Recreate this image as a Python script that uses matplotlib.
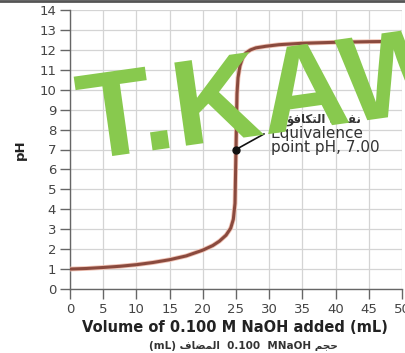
import matplotlib
matplotlib.use("Agg")
import matplotlib.pyplot as plt
import matplotlib.patheffects as pe
from matplotlib.textpath import TextPath
from matplotlib.patches import PathPatch
from matplotlib.font_manager import FontProperties
from matplotlib.transforms import Affine2D, IdentityTransform

# titration curve: 0.100 M NaOH into strong acid
volume_ml = [0, 2.5, 5, 7.5, 10, 12.5, 15, 17.5, 20, 21.5, 22.5, 23.5, 24.2, 24.6, 24.85,
             25.0, 25.15, 25.3, 25.6, 26.0, 26.5, 27.2, 28.0, 29.5, 31.5, 35, 40, 45, 50]
ph_values = [1.00, 1.03, 1.08, 1.14, 1.22, 1.33, 1.47, 1.66, 1.95, 2.18, 2.40, 2.70, 3.05, 3.50, 4.30,
             7.00, 9.80, 10.60, 11.20, 11.60, 11.85, 12.00, 12.10, 12.18, 12.26, 12.33, 12.38, 12.41, 12.43]
equiv_point = (25.0, 7.0)
x_ticks = list(range(0, 55, 5))
y_ticks = list(range(0, 15))

label_en = "Volume of 0.100 M NaOH added (mL)"
# Arabic in visual order with presentation forms (matplotlib does no shaping)
label_ar = "(mL) \uFED1\uFE8E\uFEC0\uFEE4\uFEDF\uFE8D  0.100  MNaOH \uFEE2\uFEA0\uFEA3"
equiv_ar = "\uFE86\uFED3\uFE8E\uFEDC\uFE98\uFEDF\uFE8D \uFE94\uFEC4\uFED4\uFEE7"
equiv_en = "Equivalence\npoint pH, 7.00"
watermark = "T.KAW"

W, H = 406, 353
fig = plt.figure(figsize=(W / 100, H / 100), dpi=100)
ax = fig.add_axes([70 / W, 1 - 289 / H, (402 - 70) / W, (289 - 10) / H])

ax.plot(volume_ml, ph_values, color="#8a4a3e", lw=2.2, solid_capstyle="round",
        path_effects=[pe.Stroke(linewidth=3.4, foreground="#f0c2b4"), pe.Normal()], zorder=3)
ax.plot(*equiv_point, "o", color="#111111", ms=5, zorder=4)
ax.annotate("", xy=equiv_point, xytext=(29.6, 7.85),
            arrowprops=dict(arrowstyle="-", color="#111111", lw=1.2), zorder=4)
ax.text(30.2, 7.45, equiv_en, fontsize=11, color="#333333", va="center", ha="left",
        linespacing=0.9, zorder=4)
ax.text(38.3, 8.5, equiv_ar, fontsize=8.5, color="#333333", va="center", ha="center",
        family="DejaVu Sans", weight="bold", zorder=4)

ax.set_xlim(0, 50)
ax.set_ylim(0, 14)
ax.set_xticks(x_ticks)
ax.set_yticks(y_ticks)
ax.grid(True, color="#d4d4d4", lw=0.9)
ax.set_axisbelow(True)
for s in ("top", "right"):
    ax.spines[s].set_visible(False)
for s in ("left", "bottom"):
    ax.spines[s].set_color("#666666")
    ax.spines[s].set_linewidth(1.0)
ax.tick_params(axis="both", colors="#666666", length=7, width=1.0, labelsize=9.5,
               labelcolor="#444444", pad=3)
ax.set_ylabel("pH", fontsize=9.5, weight="bold", color="#222222", labelpad=9)

fig.text(235 / W, 1 - 328 / H, label_en, fontsize=10.5, weight="bold", color="#222222",
         ha="center", va="center")
fig.text(243 / W, 1 - 346 / H, label_ar, fontsize=7.5, weight="bold", color="#333333",
         ha="center", va="center")

# green watermark across the plot, drawn as a path in pixels so it stays smooth
wm_path = TextPath((0, 0), watermark, size=122,
                   prop=FontProperties(family="Liberation Sans", weight="bold"))
wm_tr = Affine2D().rotate_deg(8).translate(84, H - 160) + IdentityTransform()
fig.add_artist(PathPatch(wm_path, transform=wm_tr, facecolor="#88c94e", edgecolor="none",
                         zorder=10))
fig.add_artist(plt.Line2D([0, 1], [1 - 1 / H, 1 - 1 / H], color="#555555", lw=2,
                          transform=fig.transFigure))

fig.savefig("out.png", dpi=100)
